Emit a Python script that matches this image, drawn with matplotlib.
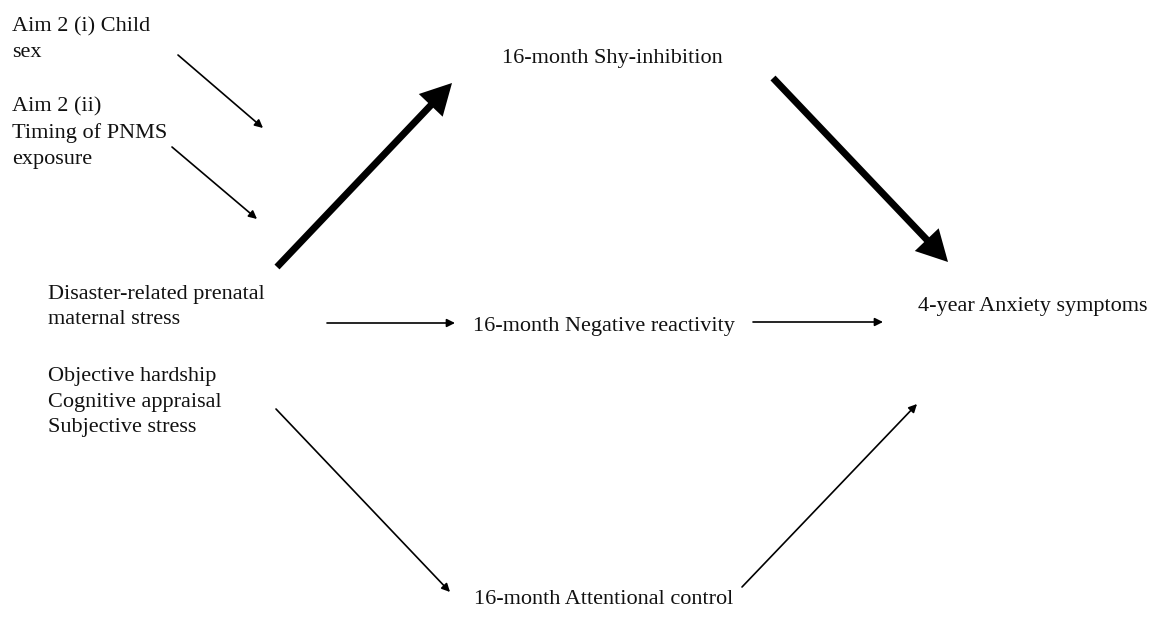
import matplotlib.pyplot as plt

plt.rcParams['font.family'] = ['Liberation Serif', 'DejaVu Serif']

# node labels and where they sit (pixel coords of the 1150x622 canvas)
labels = [
    "Aim 2 (i) Child\nsex",
    "Aim 2 (ii)\nTiming of PNMS\nexposure",
    "Disaster-related prenatal\nmaternal stress",
    "Objective hardship\nCognitive appraisal\nSubjective stress",
    "16-month Shy-inhibition",
    "16-month Negative reactivity",
    "4-year Anxiety symptoms",
    "16-month Attentional control",
]
label_x = [12, 12, 48, 48, 612, 604, 1033, 604]
label_y = [40, 133, 307, 402, 58, 326, 307, 600]
label_ha = ['left', 'left', 'left', 'left', 'center', 'center', 'center', 'center']

# paths: start, end, thick?
arrow_start = [(178, 55), (172, 147), (277, 267), (773, 78), (327, 323), (753, 322), (276, 409), (742, 587)]
arrow_end = [(263, 128), (257, 219), (452, 83), (948, 262), (455, 323), (883, 322), (450, 592), (917, 404)]
arrow_thick = [False, False, True, True, False, False, False, False]

fig = plt.figure(figsize=(11.5, 6.22), dpi=100)
ax = fig.add_axes([0, 0, 1, 1])
ax.set_xlim(0, 1150)
ax.set_ylim(622, 0)
ax.axis('off')

for txt, x, y, ha in zip(labels, label_x, label_y, label_ha):
    ax.text(x, y, txt, ha=ha, va='center', fontsize=16, color='#111111', linespacing=1.45)

for s, e, thick in zip(arrow_start, arrow_end, arrow_thick):
    if thick:
        props = dict(arrowstyle='-|>,head_length=0.6,head_width=0.32', lw=5, color='black',
                     mutation_scale=24, shrinkA=0, shrinkB=0, capstyle='butt',
                     joinstyle='miter')
    else:
        props = dict(arrowstyle='-|>', lw=1.2, color='black', mutation_scale=12,
                     shrinkA=0, shrinkB=0)
    ax.annotate('', xy=e, xytext=s, arrowprops=props)

fig.savefig('out.png', dpi=100, facecolor='white')
